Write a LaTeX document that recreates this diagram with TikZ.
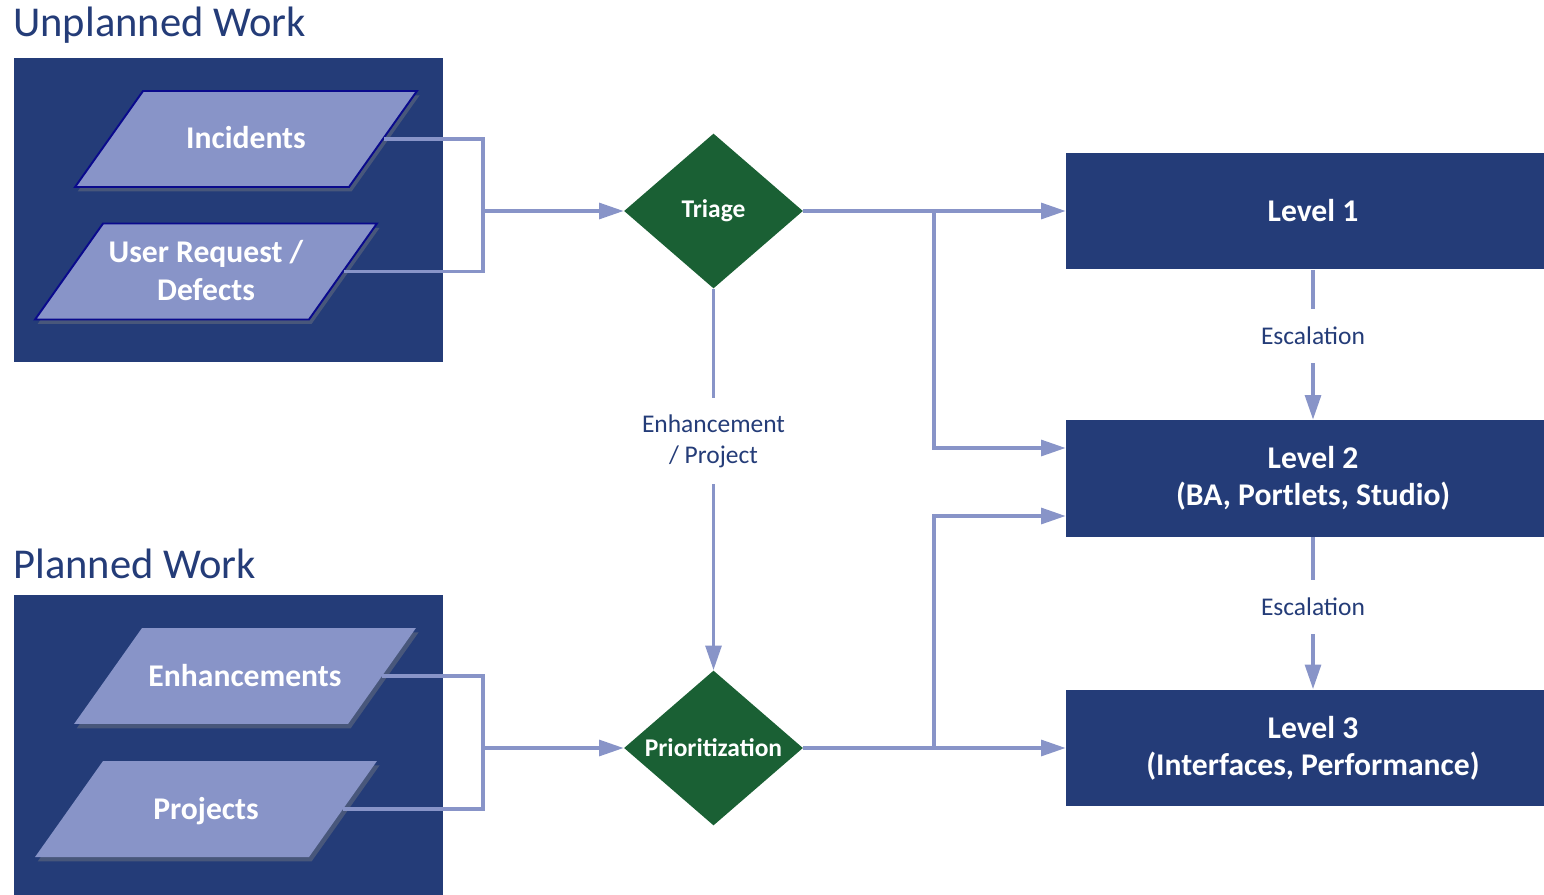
\documentclass[tikz,border=0pt]{standalone}
\usepackage{fontspec}
\setmainfont{Carlito}
\usepackage{tikz}
\usetikzlibrary{arrows.meta,positioning,shapes.geometric,calc,shadows}
\definecolor{wrknavy}{RGB}{36,60,120}
\definecolor{wrklilac}{RGB}{136,148,200}
\definecolor{wrkgreen}{RGB}{26,96,52}
\definecolor{wrkedge}{RGB}{10,10,140}

\begin{document}
\begin{tikzpicture}[x=0.02cm, y=-0.02cm,
    grouptitle/.style={anchor=base west, inner sep=0pt,
                 font=\fontsize{24.2}{28}\selectfont, text=wrknavy},
    groupbox/.style={rectangle, fill=wrknavy, inner sep=0pt},
    workitem/.style={trapezium, trapezium left angle=54.7,
                 trapezium right angle=125.3, fill=wrklilac, inner sep=0pt,
                 text width=4.12cm, text height=1.16cm, text depth=0.76cm,
                 font=\fontsize{18}{21.6}\selectfont\bfseries,
                 text=white, align=flush center,
                 drop shadow={shadow xshift=1.5pt, shadow yshift=-2.5pt, opacity=0.4}},
    twolines/.style={text height=0.78cm, text depth=1.14cm},
    decision/.style={diamond, aspect=1.155, fill=wrkgreen,
                 minimum width=3.58cm, minimum height=3.1cm, inner sep=0pt,
                 font=\fontsize{14.5}{17}\selectfont\bfseries, text=white},
    level/.style={rectangle, fill=wrknavy, minimum width=9.88cm,
                 minimum height=2.34cm, inner sep=0pt,
                 font=\fontsize{18}{21}\selectfont\bfseries, text=white, align=center},
    link/.style={line width=2pt, wrklilac},
    arr/.style={link, -{Triangle[length=14pt, width=9pt]}},
    flowlabel/.style={fill=white, inner sep=0pt, text=wrknavy, align=center,
                 font=\fontsize{14.5}{17.6}\selectfont},
  ]
  \useasboundingbox (0,0) rectangle (1544,895);

  % Unplanned work
  \node[grouptitle] (unpltitle) at (13,37) {Unplanned Work};
  \node[groupbox, minimum width=8.58cm, minimum height=6.08cm] (unplbox) at (228.5,210) {};
  \node[workitem, draw=wrkedge, line width=1.1pt] (incid) at (246,139) {Incidents};
  \node[workitem, twolines, draw=wrkedge, line width=1.1pt] (userreq) at (206,271.5) {User Request /\\Defects};

  % Planned work
  \node[grouptitle] (plantitle) at (13,578) {Planned Work};
  \node[groupbox, minimum width=8.58cm, minimum height=6cm] (planbox) at (228.5,745) {};
  \node[workitem] (enhanc) at (245,676) {Enhancements};
  \node[workitem] (projs) at (206,809) {Projects};

  % Decisions
  \node[decision] (triage) at (713.5,211) {Triage};
  \node[decision] (prio) at (713.5,748) {Prioritization};

  % Support levels
  \node[level] (lvl1) at (1313,211) {Level 1};
  \node[level] (lvl2) at (1313,478.5) {Level 2\\(BA, Portlets, Studio)};
  \node[level] (lvl3) at (1313,748) {Level 3\\(Interfaces, Performance)};

  % Inputs into decisions
  \coordinate (joinup) at (483,211);
  \coordinate (joindown) at (483,748);
  \draw[link] (incid.east) -| (joinup) |- (userreq.east);
  \draw[arr] (joinup) -- (triage.west);
  \draw[link] (enhanc.east) -| (joindown) |- (projs.east);
  \draw[arr] (joindown) -- (prio.west);

  % Decisions to levels
  \coordinate (splitup) at (934,211);
  \coordinate (splitdown) at (934,748);
  \draw[arr] (triage.east) -- (lvl1.west);
  \draw[arr] (splitup) |- ($(lvl2.west)+(0,-30.5)$);
  \draw[arr] (prio.east) -- (lvl3.west);
  \draw[arr] (splitdown) |- ($(lvl2.west)+(0,37.5)$);

  % Triage to prioritization
  \draw[arr] (triage.south) -- node[flowlabel, pos=0.4, minimum height=1.72cm]
    (enhlbl) {Enhancement\\/ Project} (prio.north);

  % Escalation
  \draw[arr] (lvl1.south) -- node[flowlabel, pos=0.44, minimum height=1.08cm]
    (esc1) {Escalation} (lvl2.north);
  \draw[arr] (lvl2.south) -- node[flowlabel, pos=0.46, minimum height=1.08cm]
    (esc2) {Escalation} (lvl3.north);
\end{tikzpicture}
\end{document}
